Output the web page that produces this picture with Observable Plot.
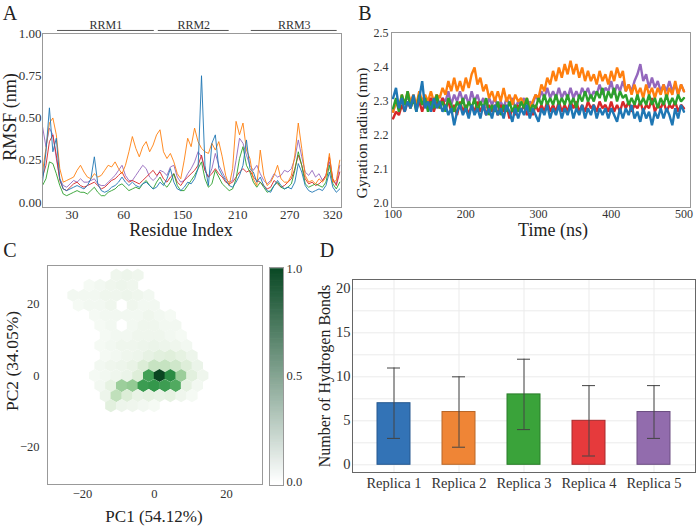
<!DOCTYPE html>
<html><head><meta charset="utf-8">
<script src="https://cdn.jsdelivr.net/npm/d3@7"></script>
<script src="https://cdn.jsdelivr.net/npm/@observablehq/plot@0.6"></script>
<style>
html,body{margin:0;padding:0;background:#fff;}
#wrap{position:relative;width:696px;height:527px;overflow:hidden;font-family:'Liberation Serif','Times New Roman',serif;color:#222;background:#fff;}
#wrap svg{position:absolute;overflow:visible;}
#wrap svg, #wrap svg text{font-family:'Liberation Serif','Times New Roman',serif !important;}
.t{position:absolute;white-space:nowrap;line-height:0.85;transform:translate(-50%,-50%);}
.r{transform:translate(-50%,-50%) rotate(-90deg);}
</style></head><body><div id="wrap"></div>
<script>
// ---------- shared ----------
const replicas = ["Replica 1","Replica 2","Replica 3","Replica 4","Replica 5"];
const lineColors = ["#1f77b4","#ff7f0e","#2ca02c","#d62728","#9467bd"];

// ---------- Panel A : RMSF ----------
const rmsfIdx = d3.range(0, 173, 2);
const rmsfTickIdx = [17, 47, 81, 113, 143, 168];
const rmsfTickLabels = ["30", "60", "150", "210", "270", "320"];
const rrmNames = ["RRM1", "RRM2", "RRM3"];
const rrmStart = [8.7, 67, 120.8];
const rrmEnd = [64.7, 108, 170.5];
const rmsfRep1 = [0.12,0.30,0.56,0.30,0.38,0.14,0.08,0.07,0.08,0.09,
0.10,0.09,0.08,0.10,0.14,0.27,0.11,0.07,0.06,0.07,
0.09,0.10,0.12,0.15,0.12,0.10,0.12,0.10,0.09,0.11,
0.12,0.10,0.08,0.09,0.12,0.10,0.14,0.20,0.12,0.08,
0.07,0.09,0.12,0.11,0.14,0.20,0.75,0.22,0.10,0.35,
0.40,0.20,0.16,0.13,0.10,0.09,0.12,0.16,0.22,0.37,
0.20,0.18,0.12,0.15,0.10,0.07,0.06,0.10,0.13,0.10,
0.08,0.09,0.08,0.12,0.23,0.18,0.10,0.07,0.06,0.07,
0.08,0.07,0.10,0.18,0.09,0.06,0.08];
const rmsfRep2 = [0.18,0.32,0.47,0.50,0.40,0.20,0.12,0.13,0.14,0.15,
0.19,0.22,0.18,0.15,0.14,0.17,0.15,0.16,0.19,0.22,
0.21,0.24,0.20,0.17,0.22,0.30,0.39,0.32,0.27,0.33,
0.36,0.30,0.34,0.40,0.43,0.30,0.26,0.29,0.24,0.17,
0.14,0.25,0.38,0.33,0.44,0.36,0.32,0.30,0.29,0.35,
0.31,0.36,0.27,0.16,0.10,0.20,0.48,0.40,0.47,0.31,
0.26,0.14,0.10,0.31,0.16,0.10,0.12,0.16,0.22,0.14,
0.12,0.12,0.16,0.28,0.47,0.32,0.16,0.12,0.13,0.11,
0.14,0.12,0.15,0.29,0.12,0.13,0.25];
const rmsfRep3 = [0.10,0.14,0.24,0.23,0.17,0.10,0.05,0.04,0.05,0.06,
0.07,0.06,0.06,0.05,0.07,0.09,0.06,0.04,0.04,0.06,
0.07,0.08,0.10,0.11,0.09,0.07,0.08,0.09,0.08,0.11,
0.13,0.10,0.08,0.12,0.15,0.11,0.09,0.12,0.17,0.10,
0.07,0.07,0.10,0.13,0.16,0.20,0.24,0.14,0.09,0.11,
0.19,0.15,0.11,0.09,0.07,0.08,0.14,0.26,0.33,0.22,
0.18,0.12,0.09,0.12,0.09,0.06,0.07,0.10,0.12,0.09,
0.08,0.09,0.11,0.19,0.30,0.22,0.11,0.09,0.10,0.11,
0.10,0.09,0.12,0.22,0.11,0.08,0.12];
const rmsfRep4 = [0.15,0.22,0.36,0.40,0.28,0.13,0.08,0.07,0.09,0.11,
0.12,0.10,0.09,0.10,0.11,0.12,0.10,0.08,0.09,0.11,
0.13,0.14,0.16,0.18,0.14,0.12,0.13,0.12,0.11,0.13,
0.15,0.17,0.19,0.16,0.18,0.14,0.12,0.15,0.17,0.12,
0.10,0.13,0.15,0.17,0.19,0.22,0.28,0.19,0.15,0.17,
0.20,0.17,0.15,0.12,0.11,0.12,0.15,0.18,0.20,0.18,
0.19,0.15,0.13,0.12,0.10,0.08,0.09,0.13,0.11,0.09,
0.10,0.12,0.14,0.20,0.28,0.22,0.14,0.11,0.12,0.10,
0.11,0.13,0.16,0.27,0.14,0.10,0.18];
const rmsfRep5 = [0.45,0.33,0.44,0.40,0.26,0.14,0.10,0.09,0.11,0.13,
0.12,0.14,0.12,0.12,0.13,0.14,0.11,0.10,0.10,0.12,
0.14,0.16,0.19,0.22,0.16,0.13,0.13,0.16,0.19,0.22,
0.20,0.15,0.13,0.15,0.19,0.18,0.16,0.21,0.22,0.15,
0.12,0.13,0.17,0.20,0.24,0.30,0.27,0.19,0.15,0.20,
0.29,0.22,0.18,0.14,0.12,0.13,0.25,0.38,0.35,0.28,
0.22,0.19,0.22,0.17,0.13,0.11,0.13,0.17,0.15,0.16,
0.19,0.18,0.20,0.26,0.37,0.27,0.18,0.16,0.19,0.15,
0.17,0.13,0.16,0.24,0.13,0.11,0.22];
const rmsfAll = [rmsfRep1, rmsfRep2, rmsfRep3, rmsfRep4, rmsfRep5];

// ---------- Panel B : gyration radius ----------
const rgTime = d3.range(100, 501, 4);
const rgRep1 = [2.31,2.34,2.28,2.31,2.27,2.30,2.28,2.32,2.27,2.31,
2.36,2.28,2.30,2.27,2.31,2.28,2.30,2.27,2.29,2.26,
2.28,2.23,2.27,2.29,2.26,2.28,2.25,2.29,2.26,2.28,
2.25,2.29,2.26,2.28,2.25,2.29,2.26,2.28,2.25,2.29,
2.27,2.24,2.28,2.25,2.28,2.26,2.29,2.25,2.28,2.26,
2.24,2.28,2.26,2.29,2.25,2.28,2.26,2.29,2.25,2.28,
2.26,2.29,2.25,2.28,2.26,2.29,2.25,2.28,2.26,2.29,
2.25,2.28,2.26,2.28,2.25,2.28,2.26,2.24,2.28,2.25,
2.28,2.26,2.29,2.25,2.27,2.24,2.28,2.25,2.27,2.23,
2.27,2.25,2.28,2.25,2.28,2.26,2.23,2.28,2.25,2.29,
2.27];
const rgRep2 = [2.27,2.30,2.28,2.32,2.29,2.33,2.30,2.32,2.29,2.33,
2.30,2.32,2.30,2.33,2.30,2.32,2.31,2.34,2.32,2.36,
2.33,2.37,2.33,2.36,2.33,2.37,2.34,2.38,2.40,2.35,
2.37,2.33,2.35,2.31,2.33,2.30,2.33,2.30,2.34,2.30,
2.32,2.29,2.32,2.30,2.31,2.29,2.31,2.28,2.30,2.32,
2.31,2.35,2.33,2.37,2.35,2.39,2.36,2.40,2.37,2.41,
2.38,2.42,2.38,2.41,2.37,2.40,2.36,2.39,2.36,2.38,
2.35,2.39,2.36,2.38,2.35,2.39,2.36,2.40,2.37,2.39,
2.33,2.35,2.32,2.35,2.32,2.34,2.31,2.35,2.32,2.34,
2.31,2.34,2.32,2.35,2.31,2.34,2.32,2.36,2.32,2.35,
2.33];
const rgRep3 = [2.28,2.31,2.27,2.32,2.29,2.33,2.28,2.31,2.27,2.32,
2.29,2.31,2.27,2.30,2.28,2.32,2.28,2.30,2.27,2.31,
2.29,2.27,2.30,2.28,2.31,2.27,2.30,2.28,2.31,2.27,
2.30,2.28,2.31,2.26,2.29,2.27,2.30,2.26,2.29,2.27,
2.30,2.27,2.29,2.27,2.30,2.28,2.31,2.27,2.29,2.28,
2.31,2.29,2.32,2.29,2.31,2.29,2.32,2.29,2.31,2.29,
2.32,2.29,2.31,2.28,2.32,2.30,2.33,2.30,2.32,2.30,
2.33,2.31,2.34,2.30,2.33,2.31,2.34,2.30,2.33,2.31,
2.32,2.29,2.31,2.29,2.32,2.29,2.31,2.29,2.32,2.29,
2.31,2.28,2.31,2.29,2.32,2.29,2.31,2.29,2.32,2.30,
2.31];
const rgRep4 = [2.25,2.27,2.26,2.29,2.27,2.30,2.28,2.31,2.28,2.30,
2.27,2.30,2.28,2.31,2.27,2.30,2.28,2.31,2.28,2.30,
2.27,2.29,2.26,2.30,2.27,2.29,2.26,2.29,2.27,2.30,
2.27,2.29,2.26,2.29,2.27,2.29,2.26,2.29,2.27,2.29,
2.25,2.28,2.26,2.29,2.27,2.29,2.26,2.28,2.26,2.29,
2.27,2.29,2.27,2.30,2.27,2.29,2.27,2.30,2.27,2.29,
2.27,2.30,2.28,2.30,2.27,2.29,2.27,2.30,2.28,2.29,
2.27,2.30,2.28,2.29,2.27,2.30,2.27,2.29,2.27,2.30,
2.28,2.30,2.27,2.29,2.28,2.30,2.27,2.29,2.28,2.31,
2.27,2.29,2.28,2.30,2.27,2.29,2.28,2.30,2.27,2.29,
2.28];
const rgRep5 = [2.27,2.30,2.28,2.31,2.29,2.32,2.29,2.31,2.28,2.32,
2.29,2.31,2.28,2.31,2.29,2.32,2.29,2.31,2.30,2.33,
2.29,2.32,2.30,2.33,2.30,2.32,2.29,2.33,2.30,2.32,
2.29,2.31,2.28,2.31,2.29,2.31,2.28,2.30,2.28,2.31,
2.29,2.31,2.28,2.30,2.29,2.31,2.28,2.30,2.29,2.32,
2.30,2.33,2.31,2.34,2.31,2.33,2.31,2.34,2.31,2.33,
2.31,2.34,2.31,2.33,2.31,2.34,2.32,2.34,2.31,2.33,
2.32,2.35,2.32,2.34,2.33,2.36,2.32,2.35,2.33,2.36,
2.33,2.35,2.33,2.36,2.38,2.41,2.36,2.38,2.34,2.37,
2.34,2.36,2.33,2.35,2.33,2.36,2.33,2.35,2.32,2.35,
2.33];
const rgAll = [rgRep1, rgRep2, rgRep3, rgRep4, rgRep5];

// ---------- Panel C : PCA hexbin density ----------
const hexRowPC2 = [28, 25.2, 22.4, 19.6, 16.8, 14, 11.2, 8.4, 5.6, 2.8, 0, -2.8, -5.6, -8.4];
const hexRowPC1Start = [-10.6, -18.1, -22.6, -21.1, -16.6, -15.1, -13.6, -15.1, -13.6, -15.1, -16.6, -15.1, -13.6, -12.1];
const hexBinWidth = 3;
const hexRowDensity = [
 [0.05,0.06,0.05],
 [0.03,0.04,0.05,0.06,0.05],
 [0.04,0.04,0.04,0.05,0.05,0.06,0.05,0.04],
 [0.03,0.04,0.04,0.05,0,0.05,0.04,0.04],
 [0.03,0.04,0.04,0.04,0.04,0.05,0.04,0.03],
 [0.03,0.04,0,0.04,0.05,0.05,0.04,0.04],
 [0.03,0.04,0.04,0.05,0.05,0.05,0.04,0.03],
 [0.03,0.04,0.05,0.05,0.06,0.07,0.06,0.05,0.04],
 [0.03,0.04,0.05,0.06,0.09,0.12,0.13,0.10,0.06],
 [0.04,0.05,0.06,0.08,0.15,0.26,0.27,0.22,0.14,0.07],
 [0.03,0.04,0.05,0.07,0.14,0.72,1.0,0.82,0.42,0.12,0.05],
 [0.04,0.10,0.42,0.45,0.75,0.78,0.74,0.66,0.10,0.04],
 [0.06,0.30,0.15,0.08,0.10,0.08,0.10,0.05,0.03],
 [0.12,0.06,0.05,0.04,0.03]
];
const hexColorDomain = [0, 0.05, 0.15, 0.3, 0.45, 0.6, 0.8, 1];
const hexColorRange = ["#ffffff","#eff6ed","#dcedd7","#c0e0bb","#93ca93","#5fb36a","#2f9448","#0b4622"];

// ---------- Panel D : hydrogen bonds ----------
const hbMean = [7, 6, 8, 5, 6];
const hbLow = [3, 2, 4, 1, 3];
const hbHigh = [11, 10, 12, 9, 9];
const barFill = ["#3373b6", "#ef8536", "#3aa33a", "#e63a3c", "#926cad"];
const barStroke = ["#26598f", "#b86628", "#2a7d2a", "#a82a2c", "#6c4f82"];
const hbGrid = [0, 2.5, 5, 7.5, 10, 12.5, 15, 17.5, 20];

// ---------- build ----------
const wrap = document.getElementById("wrap");
const FONT = "'Liberation Serif','Times New Roman',serif";
function place(svg, left, top) { svg.style.left = left + "px"; svg.style.top = top + "px"; wrap.appendChild(svg); }
function txt(s, x, y, size, rot) {
  const d = document.createElement("div");
  d.className = "t" + (rot ? " r" : "");
  d.textContent = s; d.style.left = x + "px"; d.style.top = y + "px"; d.style.fontSize = size + "px";
  wrap.appendChild(d);
}

// A
const orderA = [4, 3, 2, 1, 0];
const plotA = Plot.plot({
  width: 348, height: 250, marginLeft: 42, marginRight: 7, marginTop: 33, marginBottom: 43,
  style: {fontFamily: FONT, fontSize: "13px", color: "#333", background: "transparent"},
  x: {domain: [0, 173], ticks: rmsfTickIdx, tickFormat: d => rmsfTickLabels[rmsfTickIdx.indexOf(d)], tickSize: 0, tickPadding: 2, label: null},
  y: {domain: [-0.03, 1.0], ticks: [0, 0.25, 0.5, 0.75, 1], tickFormat: ".2f", tickSize: 0, tickPadding: 1, label: null},
  marks: [
    ...orderA.map(s => Plot.line(rmsfIdx, {x: d => d, y: (d, i) => rmsfAll[s][i], stroke: lineColors[s], strokeWidth: 1, strokeOpacity: 0.9})),
    Plot.frame({stroke: "#999"}),
    Plot.ruleY(rrmNames, {y: () => 1.018, x1: (d, i) => rrmStart[i], x2: (d, i) => rrmEnd[i], stroke: "#555", strokeWidth: 1}),
    Plot.text(rrmNames, {x: (d, i) => (rrmStart[i] + rrmEnd[i]) / 2, y: () => 1.05, text: d => d, fontSize: 12, fill: "#333"})
  ]
});
place(plotA, 0, 0);

// B
const orderB = [4, 1, 3, 2, 0];
const plotB = Plot.plot({
  width: 351, height: 250, marginLeft: 46, marginRight: 6, marginTop: 32, marginBottom: 43,
  style: {fontFamily: FONT, fontSize: "12px", color: "#333", background: "transparent"},
  x: {domain: [97.8, 509], ticks: [100, 200, 300, 400, 500], tickSize: 0, tickPadding: 2, label: null},
  y: {domain: [1.988, 2.503], ticks: [2.0, 2.1, 2.2, 2.3, 2.4, 2.5], tickFormat: ".1f", tickSize: 0, tickPadding: 3, label: null},
  marks: [
    ...orderB.map(s => Plot.line(rgTime, {x: d => d, y: (d, i) => rgAll[s][i], stroke: lineColors[s], strokeWidth: 2.4, strokeLinejoin: "miter"})),
    Plot.frame({stroke: "#999"})
  ]
});
place(plotB, 345, 0);

// C
const hexCells = [];
hexRowDensity.forEach((row, r) => row.forEach((v, k) => {
  if (v > 0) hexCells.push({pc1: hexRowPC1Start[r] + k * hexBinWidth, pc2: hexRowPC2[r], density: v});
}));
const plotC = Plot.plot({
  width: 262, height: 277, marginLeft: 47, marginRight: 0, marginTop: 15, marginBottom: 43,
  style: {fontFamily: FONT, fontSize: "12.5px", color: "#333", background: "transparent"},
  x: {domain: [-29.7, 30], ticks: [-20, 0, 20], tickSize: 0, tickPadding: 5, label: null},
  y: {domain: [-30.4, 30.7], ticks: [-20, 0, 20], tickSize: 0, tickPadding: 8, label: null},
  color: {type: "linear", domain: hexColorDomain, range: hexColorRange, interpolate: "rgb"},
  marks: [
    Plot.dot(hexCells, {x: "pc1", y: "pc2", fill: "density", symbol: "hexagon", r: 5.7}),
    Plot.frame({stroke: "#999"})
  ]
});
place(plotC, 0, 250);

// colorbar
const cbSteps = d3.range(0, 1.0001, 0.004);
const plotCB = Plot.plot({
  width: 50, height: 277, marginLeft: 4, marginRight: 32, marginTop: 17, marginBottom: 42,
  style: {fontFamily: FONT, fontSize: "12.5px", color: "#333", background: "transparent"},
  x: {axis: null},
  y: {axis: "right", domain: [-0.016, 1.007], ticks: [0, 0.5, 1], tickFormat: ".1f", tickSize: 0, tickPadding: 3, label: null},
  color: {type: "linear", domain: [0, 1], range: ["#ffffff", "#0b4a26"], interpolate: "rgb"},
  marks: [
    Plot.ruleY(cbSteps, {y: d => d, stroke: d => d, strokeWidth: 1.6}),
    Plot.frame({stroke: "#999"})
  ]
});
place(plotCB, 265, 250);

// D
const hb = replicas.map((r, i) => ({rep: r, mean: hbMean[i], lo: hbLow[i], hi: hbHigh[i], fill: barFill[i], stroke: barStroke[i]}));
const plotD = Plot.plot({
  width: 396, height: 277, marginLeft: 52, marginRight: 1, marginTop: 29, marginBottom: 55,
  style: {fontFamily: FONT, fontSize: "14.5px", color: "#333", background: "transparent"},
  x: {type: "band", domain: replicas, paddingInner: 0.5, paddingOuter: 0.35, tickSize: 0, tickPadding: 5, label: null},
  y: {domain: [-0.875, 21.06], ticks: [0, 5, 10, 15, 20], tickSize: 0, tickPadding: 2, label: null},
  marks: [
    Plot.ruleY(hbGrid, {stroke: "#ebebeb"}),
    Plot.ruleX(replicas, {x: d => d, stroke: "#ebebeb"}),
    Plot.barY(hb, {x: "rep", y: "mean", fill: "fill", stroke: "stroke", strokeWidth: 1}),
    Plot.ruleX(hb, {x: "rep", y1: "lo", y2: "hi", stroke: "#444", strokeWidth: 1}),
    Plot.tickY(hb, {x: "rep", y: "lo", stroke: "#444", insetLeft: 10, insetRight: 10}),
    Plot.tickY(hb, {x: "rep", y: "hi", stroke: "#444", insetLeft: 10, insetRight: 10}),
    Plot.frame({stroke: "#666"})
  ]
});
place(plotD, 300, 250);

// titles and panel letters
txt("A", 10, 13, 20); txt("B", 365, 13, 20); txt("C", 10, 250, 20); txt("D", 327, 250, 20);
txt("Residue Index", 181, 231, 18);
txt("RMSF (nm)", 11, 117, 18, true);
txt("Time (ns)", 553, 231, 18);
txt("Gyration radius (nm)", 362, 133, 15.5, true);
txt("PC1 (54.12%)", 154, 517, 17);
txt("PC2 (34.05%)", 12, 361, 17.5, true);
txt("Number of Hydrogen Bonds", 325, 376, 16, true);
</script></body></html>
